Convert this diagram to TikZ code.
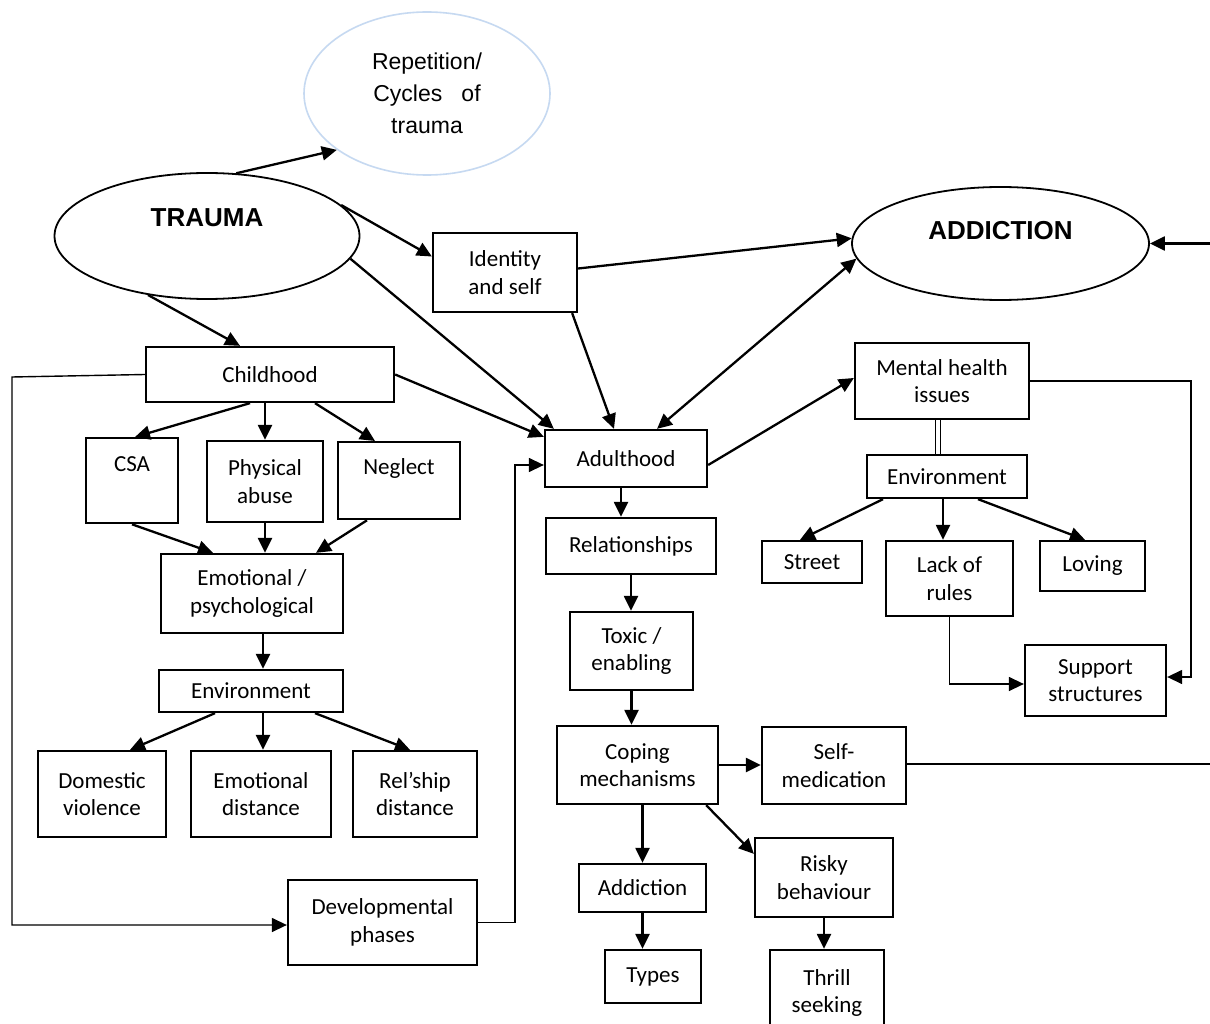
\documentclass[tikz,border=0pt]{standalone}
\usepackage{fontspec}
\setmainfont{Carlito}
\newfontfamily\arialf{Liberation Sans}
\usetikzlibrary{arrows.meta,shapes.geometric}
\definecolor{lightblue}{HTML}{C6D9F1}
\begin{document}
\begin{tikzpicture}[x=1pt,y=-1pt,
  box/.style={draw, rectangle, line width=2.3pt, align=center, inner sep=0pt, font=\fontsize{23}{27.5}\selectfont},
  oval/.style={draw, ellipse, line width=1.8pt, align=center, inner sep=0pt},
  arr/.style={line width=2.3pt, -{Triangle[length=15pt,width=14pt]}},
  dblarr/.style={line width=2.3pt, {Triangle[length=15pt,width=14pt]}-{Triangle[length=15pt,width=14pt]}},
  thinarr/.style={line width=1.4pt, -{Triangle[length=15pt,width=14pt]}},
  thinline/.style={line width=1.4pt}]
\fill[white] (0,0) rectangle (1210,1024);
\useasboundingbox (0,0) rectangle (1210,1024);

% ellipses
\node[oval, draw=lightblue, line width=1.6pt, minimum width=246pt, minimum height=163pt, font=\arialf\fontsize{23}{32}\selectfont] (rep) at (427,93.5) {Repetition/\\Cycles\ \ \ of\\trauma};
\node[oval, minimum width=305pt, minimum height=126pt, text depth=36pt, font=\arialf\bfseries\fontsize{26}{30}\selectfont] (trauma) at (207,236) {TRAUMA};
\node[oval, minimum width=297pt, minimum height=113pt, text depth=27pt, font=\arialf\bfseries\fontsize{26}{30}\selectfont] (addiction) at (1000.5,243.5) {ADDICTION};

% boxes
\node[box, minimum width=144pt, minimum height=79pt] (idn) at (505,272.5) {Identity\\and self};
\node[box, minimum width=248pt, minimum height=55pt] (child) at (270,374.5) {Childhood};
\node[box, minimum width=92pt, text height=33pt, text depth=52pt, anchor=north] (csa) at (132,437) {CSA};
\node[box, minimum width=116pt, minimum height=81pt] (phys) at (265,481.5) {Physical\\abuse};
\node[box, minimum width=122pt, text height=32pt, text depth=45pt, anchor=north] (negl) at (399,441) {Neglect};
\node[box, minimum width=182pt, minimum height=79pt] (emo) at (252,593.5) {Emotional /\\psychological};
\node[box, minimum width=184pt, minimum height=42pt] (envL) at (251,691) {Environment};
\node[box, minimum width=128pt, minimum height=86pt] (dom) at (102,794) {Domestic\\violence};
\node[box, minimum width=140pt, minimum height=86pt] (emod) at (261,794) {Emotional\\distance};
\node[box, minimum width=124pt, minimum height=86pt] (rel) at (415,794) {Rel’ship\\distance};
\node[box, minimum width=189pt, minimum height=85pt] (dev) at (382.5,922.5) {Developmental\\phases};
\node[box, minimum width=162pt, minimum height=57pt] (adult) at (626,458.5) {Adulthood};
\node[box, minimum width=170pt, minimum height=56pt] (relat) at (631,546) {Relationships};
\node[box, minimum width=123pt, minimum height=78pt] (toxic) at (631.5,651) {Toxic /\\enabling};
\node[box, minimum width=161pt, minimum height=78pt] (coping) at (637.5,765) {Coping\\mechanisms};
\node[box, minimum width=144pt, minimum height=77pt] (selfm) at (834,765.5) {Self-\\medication};
\node[box, minimum width=127pt, minimum height=48pt] (addsm) at (642.5,888) {Addiction};
\node[box, minimum width=96pt, minimum height=53pt] (types) at (653,976.5) {Types};
\node[box, minimum width=138pt, minimum height=79pt] (risky) at (824,877.5) {Risky\\behaviour};
\node[box, minimum width=114pt, minimum height=86pt] (thrill) at (827,993) {Thrill\\seeking};
\node[box, minimum width=174pt, minimum height=76pt] (mh) at (942,381) {Mental health\\issues};
\node[box, minimum width=160pt, minimum height=43pt] (envR) at (947,476.5) {Environment};
\node[box, minimum width=100pt, minimum height=42pt] (street) at (812,562) {Street};
\node[box, minimum width=127pt, minimum height=75pt] (lack) at (949.5,578.5) {Lack of\\rules};
\node[box, minimum width=105pt, minimum height=50pt] (loving) at (1092.5,566) {Loving};
\node[box, minimum width=141pt, minimum height=71pt] (supp) at (1095.5,680.5) {Support\\structures};

% free ends
\coordinate (edgeA) at (1210,243.5);
\coordinate (edgeB) at (1210,764);
\coordinate (cl1) at (12,377);

% connectors from TRAUMA
\draw[arr] (trauma.65) -- (rep.212);
\draw[arr] (trauma.13) -- ([yshift=16pt]idn.west);
\draw[arr] (trauma.-9) -- ([xshift=10pt]adult.north west);
\draw[arr] (trauma.225) -- ([xshift=-30pt]child.north);
% identity
\draw[arr] ([yshift=4pt]idn.east) -- (addiction.178);
\draw[arr] ([xshift=-6pt]idn.south east) -- ([xshift=-12pt]adult.north);
\draw[dblarr] (addiction.186) -- ([xshift=31pt]adult.north);
\draw[arr] (edgeA) -- (addiction.east);
% childhood
\draw[arr] (child.east) -- ([yshift=-8pt]adult.north west);
\draw[thinarr] (child.west) -- (cl1) |- ([yshift=-2.5pt]dev.west);
\draw[arr] ([xshift=-20pt]child.south) -- ([xshift=3pt]csa.north);
\draw[arr] (phys.north |- child.south) -- (phys.north);
\draw[arr] ([xshift=45pt]child.south) -- ([xshift=-24pt]negl.north);
\draw[arr] (csa.south) -- ([xshift=-39pt]emo.north);
\draw[arr] (phys.south) -- (phys.south |- emo.north);
\draw[arr] ([xshift=-32pt]negl.south) -- ([xshift=64pt]emo.north);
\draw[arr] ([xshift=11pt]emo.south) -- ([xshift=11pt]emo.south |- envL.north);
\draw[arr] ([xshift=-36pt]envL.south) -- ([xshift=28pt]dom.north);
\draw[arr] ([xshift=12pt]envL.south) -- ([xshift=12pt]envL.south |- emod.north);
\draw[arr] ([xshift=64pt]envL.south) -- ([xshift=-5pt]rel.north);
\draw[thinarr] (dev.east) -- ++(37,0) |- ([yshift=-6.5pt]adult.west);
% adulthood column
\draw[arr] ([yshift=-6.5pt]adult.east) -- ([yshift=3pt]mh.west);
\draw[arr] ([xshift=-5pt]adult.south) -- ([xshift=-5pt]adult.south |- relat.north);
\draw[arr] (relat.south) -- (relat.south |- toxic.north);
\draw[arr] (toxic.south) -- (toxic.south |- coping.north);
\draw[arr] (coping.east) -- (coping.east -| selfm.west);
\draw[thinline] (selfm.east |- edgeB) -- (edgeB);
\draw[arr] (addsm.north |- coping.south) -- (addsm.north);
\draw[arr] ([xshift=-13pt]coping.south east) -- ([yshift=-17pt]risky.north west);
\draw[arr] (addsm.south) -- (addsm.south |- types.north);
\draw[arr] (risky.south) -- (risky.south |- thrill.north);
% mental health
\draw[thinarr] (mh.east) -- ++(161,0) |- ([yshift=3.5pt]supp.east);
\draw[line width=1.1pt, double, double distance=3.5pt] ([xshift=-4pt]mh.south) -- ([xshift=-4pt]mh.south |- envR.north);
\draw[arr] ([xshift=-64pt]envR.south) -- ([xshift=-12pt]street.north);
\draw[arr] ([xshift=-4pt]envR.south) -- ([xshift=-4pt]envR.south |- lack.north);
\draw[arr] ([xshift=31pt]envR.south) -- ([xshift=-7.5pt]loving.north);
\draw[thinarr] (lack.south) |- ([yshift=-3.5pt]supp.west);
\end{tikzpicture}
\end{document}
